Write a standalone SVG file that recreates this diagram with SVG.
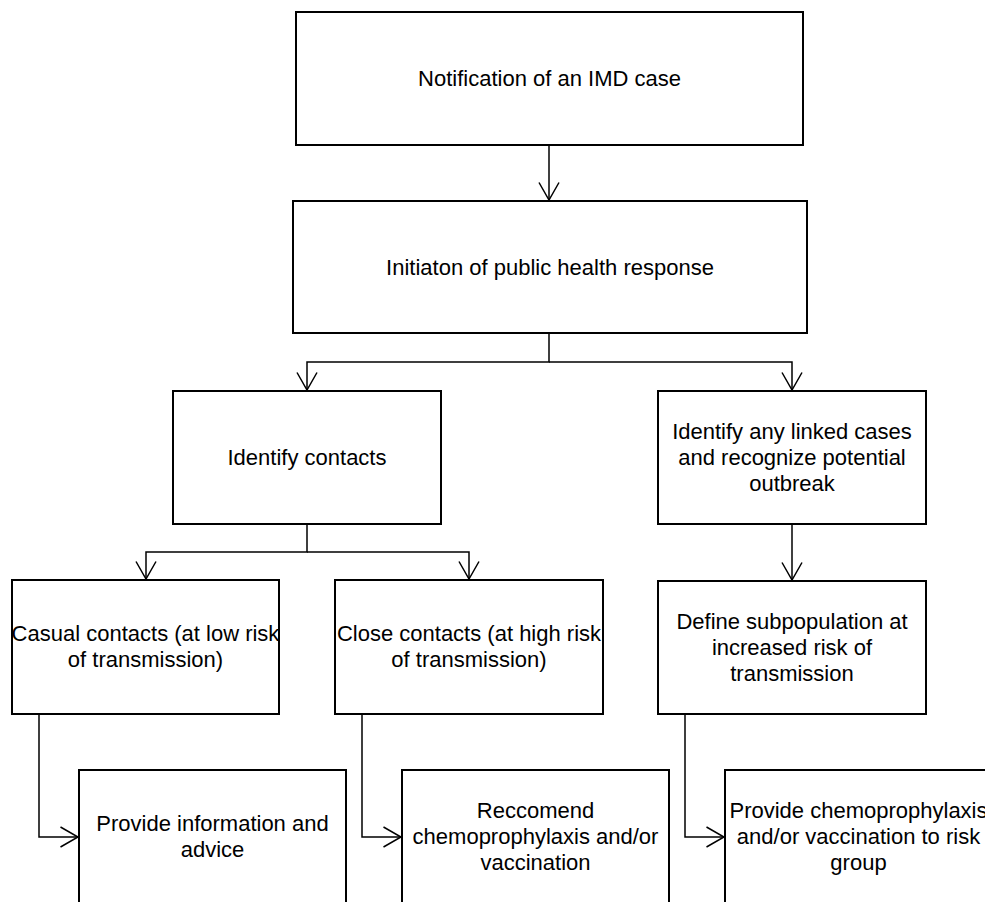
<svg xmlns="http://www.w3.org/2000/svg" width="985" height="902" viewBox="0 0 985 902">
<style>
.box{fill:#fff;stroke:#000;stroke-width:2}
.lbl{font-family:"Liberation Sans",Arial,sans-serif;font-size:22px;fill:#000;text-anchor:middle}
.con{fill:none;stroke:#000;stroke-width:1.5}
</style>
<defs>
<marker id="arr" viewBox="0 0 20 22" refX="18.5" refY="11" markerWidth="20" markerHeight="22" markerUnits="userSpaceOnUse" orient="auto">
<path d="M1,1 L18.5,11 L1,21" fill="none" stroke="#000" stroke-width="1.5"/>
</marker>
</defs>
<rect width="985" height="902" fill="#fff"/>
<g id="connectors">
<path class="con" d="M549,145 V200" marker-end="url(#arr)"/>
<path class="con" d="M549,333 V362 H307 V390" marker-end="url(#arr)"/>
<path class="con" d="M549,362 H792 V390" marker-end="url(#arr)"/>
<path class="con" d="M307,524 V552 H146 V579" marker-end="url(#arr)"/>
<path class="con" d="M307,552 H469 V579" marker-end="url(#arr)"/>
<path class="con" d="M792,524 V580" marker-end="url(#arr)"/>
<path class="con" d="M39,714 V837 H78" marker-end="url(#arr)"/>
<path class="con" d="M362,714 V837 H401" marker-end="url(#arr)"/>
<path class="con" d="M685,714 V837 H724" marker-end="url(#arr)"/>
</g>
<g id="notification">
<rect class="box" x="296" y="12" width="507" height="133"/>
<text class="lbl" x="549.5" y="86">Notification of an IMD case</text>
</g>
<g id="initiation">
<rect class="box" x="293" y="201" width="514" height="132"/>
<text class="lbl" x="550" y="275">Initiaton of public health response</text>
</g>
<g id="identify-contacts">
<rect class="box" x="173" y="391" width="268" height="133"/>
<text class="lbl" x="307" y="465">Identify contacts</text>
</g>
<g id="linked-cases">
<rect class="box" x="658" y="391" width="268" height="133"/>
<text class="lbl" x="792" y="439">Identify any linked cases</text>
<text class="lbl" x="792" y="465">and recognize potential</text>
<text class="lbl" x="792" y="491">outbreak</text>
</g>
<g id="casual">
<rect class="box" x="12" y="580" width="267" height="134"/>
<text class="lbl" x="145.5" y="641">Casual contacts (at low risk</text>
<text class="lbl" x="145.5" y="667">of transmission)</text>
</g>
<g id="close">
<rect class="box" x="335" y="580" width="268" height="134"/>
<text class="lbl" x="469" y="641">Close contacts (at high risk</text>
<text class="lbl" x="469" y="667">of transmission)</text>
</g>
<g id="define">
<rect class="box" x="658" y="581" width="268" height="133"/>
<text class="lbl" x="792" y="629">Define subpopulation at</text>
<text class="lbl" x="792" y="655">increased risk of</text>
<text class="lbl" x="792" y="681">transmission</text>
</g>
<g id="provide-info">
<rect class="box" x="79" y="770" width="267" height="140"/>
<text class="lbl" x="212.5" y="831">Provide information and</text>
<text class="lbl" x="212.5" y="857">advice</text>
</g>
<g id="recommend">
<rect class="box" x="402" y="770" width="267" height="140"/>
<text class="lbl" x="535.5" y="818">Reccomend</text>
<text class="lbl" x="535.5" y="844">chemoprophylaxis and/or</text>
<text class="lbl" x="535.5" y="870">vaccination</text>
</g>
<g id="provide-chemo">
<rect class="box" x="725" y="770" width="267" height="140"/>
<text class="lbl" x="858.5" y="818">Provide chemoprophylaxis</text>
<text class="lbl" x="858.5" y="844">and/or vaccination to risk</text>
<text class="lbl" x="858.5" y="870">group</text>
</g>
</svg>
